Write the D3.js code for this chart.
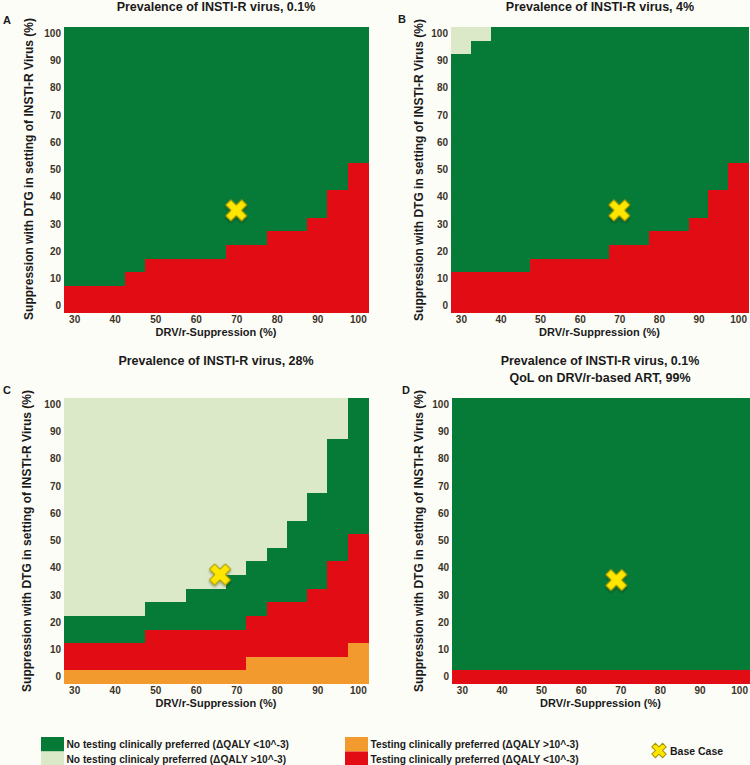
<!DOCTYPE html>
<html>
<head>
<meta charset="utf-8">
<script src="https://cdn.jsdelivr.net/npm/d3@7"></script>
<style>
  html, body { margin: 0; padding: 0; background: #fdfdf8; }
  svg { display: block; }
</style>
</head>
<body>
<script>
// ---------- DATA ----------
const xValues = [30, 35, 40, 45, 50, 55, 60, 65, 70, 75, 80, 85, 90, 95, 100];   // DRV/r-Suppression (%)
const yValues = [0, 5, 10, 15, 20, 25, 30, 35, 40, 45, 50, 55, 60, 65, 70, 75, 80, 85, 90, 95, 100];
const xTicks = [30, 40, 50, 60, 70, 80, 90, 100];
const yTicks = [0, 10, 20, 30, 40, 50, 60, 70, 80, 90, 100];

// Per DRV/r column: highest DTG-suppression value in each zone (-1 = none)
const orangeTopA = [-1, -1, -1, -1, -1, -1, -1, -1, -1, -1, -1, -1, -1, -1, -1];
const redTopA    = [5, 5, 5, 10, 15, 15, 15, 15, 20, 20, 25, 25, 30, 40, 50];
const darkTopA   = [100, 100, 100, 100, 100, 100, 100, 100, 100, 100, 100, 100, 100, 100, 100];

const orangeTopB = [-1, -1, -1, -1, -1, -1, -1, -1, -1, -1, -1, -1, -1, -1, -1];
const redTopB    = [10, 10, 10, 10, 15, 15, 15, 15, 20, 20, 25, 25, 30, 40, 50];
const darkTopB   = [90, 95, 100, 100, 100, 100, 100, 100, 100, 100, 100, 100, 100, 100, 100];

const orangeTopC = [0, 0, 0, 0, 0, 0, 0, 0, 0, 5, 5, 5, 5, 5, 10];
const redTopC    = [10, 10, 10, 10, 15, 15, 15, 15, 15, 20, 25, 25, 30, 40, 50];
const darkTopC   = [20, 20, 20, 20, 25, 25, 30, 30, 35, 40, 45, 55, 65, 85, 100];

const orangeTopD = [-1, -1, -1, -1, -1, -1, -1, -1, -1, -1, -1, -1, -1, -1, -1];
const redTopD    = [0, 0, 0, 0, 0, 0, 0, 0, 0, 0, 0, 0, 0, 0, 0];
const darkTopD   = [100, 100, 100, 100, 100, 100, 100, 100, 100, 100, 100, 100, 100, 100, 100];

const baseCaseA = [70, 35];
const baseCaseB = [70, 35];
const baseCaseC = [66, 37.5];
const baseCaseD = [69, 35.5];

const panelLetters = ["A", "B", "C", "D"];
const panelTitles = [
  ["Prevalence of INSTI-R virus, 0.1%"],
  ["Prevalence of INSTI-R virus, 4%"],
  ["Prevalence of INSTI-R virus, 28%"],
  ["Prevalence of INSTI-R virus, 0.1%", "QoL on DRV/r-based ART, 99%"]
];
const xTitle = "DRV/r-Suppression (%)";
const yTitle = "Suppression with DTG in setting of INSTI-R Virus (%)";

const categories = ["dark", "light", "orange", "red"];
const legendLabels = [
  "No testing clinically preferred (\u0394QALY <10^-3)",
  "No testing clinicaly preferred (\u0394QALY >10^-3)",
  "Testing clinically preferred (\u0394QALY >10^-3)",
  "Testing clinically preferred (\u0394QALY <10^-3)"
];
const baseCaseLabel = "Base Case";

// ---------- STYLE / LAYOUT ----------
const colors = { dark: "#067b37", light: "#dce9c8", orange: "#f39a2e", red: "#e20c14" };
const W = 750, H = 765;
const layouts = [
  { x0: 64,  x1: 368, y0: 26.5,  y1: 312.5, titleX: 216, titleY: 11,  letterX: 3,   letterY: 24,  xtY: 336, ytX: 29,  ytY: 169 },
  { x0: 451, x1: 748, y0: 26.5,  y1: 312.5, titleX: 600, titleY: 11,  letterX: 398, letterY: 23,  xtY: 336, ytX: 419, ytY: 170 },
  { x0: 64,  x1: 368, y0: 397.5, y1: 683.5, titleX: 216, titleY: 365, letterX: 3,   letterY: 394, xtY: 707, ytX: 27,  ytY: 541 },
  { x0: 452, x1: 749, y0: 397.5, y1: 683.5, titleX: 600, titleY: 365, letterX: 402, letterY: 394, xtY: 707, ytX: 419, ytY: 541 }
];
const panelData = [
  { o: orangeTopA, r: redTopA, d: darkTopA, base: baseCaseA },
  { o: orangeTopB, r: redTopB, d: darkTopB, base: baseCaseB },
  { o: orangeTopC, r: redTopC, d: darkTopC, base: baseCaseC },
  { o: orangeTopD, r: redTopD, d: darkTopD, base: baseCaseD }
];

const svg = d3.select("body").append("svg").attr("width", W).attr("height", H)
  .style("font-family", "'Liberation Sans', Arial, sans-serif");

const defs = svg.append("defs");
const f = defs.append("filter").attr("id", "shadow").attr("x", "-50%").attr("y", "-50%").attr("width", "200%").attr("height", "200%");
f.append("feDropShadow").attr("dx", 1).attr("dy", 1).attr("stdDeviation", 0.8).attr("flood-color", "#000").attr("flood-opacity", 0.45);

const markerPath = d3.symbol().type(d3.symbolCross).size(280)();

function cat(i, y, p) {
  if (y <= p.o[i]) return "orange";
  if (y <= p.r[i]) return "red";
  if (y <= p.d[i]) return "dark";
  return "light";
}

layouts.forEach((L, k) => {
  const p = panelData[k];
  const x = d3.scaleLinear().domain([27.5, 102.5]).range([L.x0, L.x1]);
  const y = d3.scaleLinear().domain([-2.5, 102.5]).range([L.y1, L.y0]);
  const g = svg.append("g");

  const cells = [];
  xValues.forEach((xv, i) => yValues.forEach(yv => cells.push({ xv, yv, c: cat(i, yv, p) })));
  g.selectAll("rect.cell").data(cells).join("rect")
    .attr("class", "cell")
    .attr("x", d => x(d.xv - 2.5))
    .attr("y", d => y(d.yv + 2.5))
    .attr("width", d => x(d.xv + 2.5) - x(d.xv - 2.5) + 0.5)
    .attr("height", d => y(d.yv - 2.5) - y(d.yv + 2.5) + 0.5)
    .attr("fill", d => colors[d.c])
    .attr("shape-rendering", "crispEdges");

  const xa = g.append("g").attr("transform", `translate(0,${L.y1})`)
    .call(d3.axisBottom(x).tickValues(xTicks).tickSize(0).tickPadding(3));
  const ya = g.append("g").attr("transform", `translate(${L.x0},0)`)
    .call(d3.axisLeft(y).tickValues(yTicks).tickSize(0).tickPadding(3));
  [xa, ya].forEach(a => {
    a.select(".domain").remove();
    a.selectAll("text").attr("font-size", 10).attr("font-weight", "bold").attr("fill", "#3b3326")
      .style("font-family", "'Liberation Sans Narrow', 'Arial Narrow', 'Liberation Sans', sans-serif");
  });

  // base case marker
  g.append("path").attr("d", markerPath)
    .attr("transform", `translate(${x(p.base[0])},${y(p.base[1])}) rotate(45)`)
    .attr("fill", "#ffe600").attr("stroke", "#a39400").attr("stroke-width", 1)
    .attr("filter", "url(#shadow)");

  // titles
  panelTitles[k].forEach((t, j) => {
    svg.append("text").attr("x", L.titleX).attr("y", L.titleY + j * 16.5)
      .attr("text-anchor", "middle").attr("font-size", 12.5).attr("font-weight", "bold")
      .attr("fill", "#1a1a1a").text(t);
  });
  svg.append("text").attr("x", L.letterX).attr("y", L.letterY)
    .attr("font-size", 11).attr("font-weight", "bold").attr("fill", "#1a1a1a").text(panelLetters[k]);

  svg.append("text").attr("x", (L.x0 + L.x1) / 2).attr("y", L.xtY)
    .attr("text-anchor", "middle").attr("font-size", 11).attr("font-weight", "bold")
    .attr("fill", "#1a1a1a").text(xTitle);
  svg.append("text").attr("transform", `translate(${L.ytX},${L.ytY}) rotate(-90)`)
    .attr("text-anchor", "middle").attr("dominant-baseline", "central")
    .attr("font-size", 12).attr("font-weight", "bold").attr("fill", "#1a1a1a").text(yTitle);
});

// ---------- LEGEND ----------
const legendItems = [
  { c: categories[0], label: legendLabels[0], x: 41, y: 737 },
  { c: categories[1], label: legendLabels[1], x: 41, y: 751.5 },
  { c: categories[2], label: legendLabels[2], x: 345, y: 737 },
  { c: categories[3], label: legendLabels[3], x: 345, y: 751.5 }
];
const lg = svg.append("g");
lg.selectAll("rect").data(legendItems).join("rect")
  .attr("x", d => d.x).attr("y", d => d.y).attr("width", 23).attr("height", 14.5)
  .attr("fill", d => colors[d.c]);
lg.selectAll("text").data(legendItems).join("text")
  .attr("x", d => d.x + 25.5).attr("y", d => d.y + 7.5)
  .attr("dominant-baseline", "central").attr("font-size", 10.2).attr("font-weight", "bold")
  .attr("fill", "#1a1a1a").text(d => d.label);
lg.append("path").attr("d", d3.symbol().type(d3.symbolCross).size(130)())
  .attr("transform", "translate(659,750.5) rotate(45)")
  .attr("fill", "#ffe600").attr("stroke", "#a39400").attr("stroke-width", 1);
lg.append("text").attr("x", 670).attr("y", 751).attr("dominant-baseline", "central")
  .attr("font-size", 10.5).attr("font-weight", "bold").attr("fill", "#1a1a1a").text(baseCaseLabel);
</script>
</body>
</html>
